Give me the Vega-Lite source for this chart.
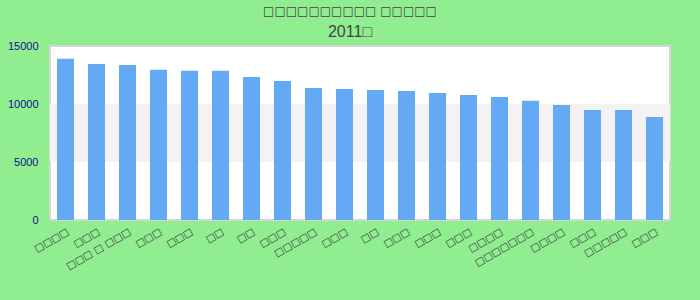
{
  "$schema": "https://vega.github.io/schema/vega-lite/v6.json",
  "width": 620,
  "height": 174,
  "autosize": {"type": "none"},
  "padding": {"left": 50, "top": 46, "right": 30, "bottom": 80},
  "background": "#90EE90",
  "title": {
    "text": "□□□□□□□□□□ □□□□□",
    "subtitle": "2011□",
    "anchor": "middle",
    "dx": -10,
    "fontSize": 12,
    "fontWeight": "normal",
    "font": "DejaVu Sans",
    "color": "#444444",
    "subtitleFont": "Liberation Sans",
    "subtitleFontSize": 16,
    "subtitleColor": "#444444",
    "subtitlePadding": 6,
    "offset": -1
  },
  "config": {
    "view": {"stroke": "#d6d6d6", "strokeWidth": 2, "fill": "white"},
    "font": "Liberation Sans"
  },
  "layer": [
    {
      "data": {"values": [{"lo": 5000, "hi": 10000}]},
      "mark": {"type": "rect", "color": "#f3f3f3"},
      "encoding": {
        "y": {"field": "lo", "type": "quantitative", "scale": {"domain": [0, 15000]}},
        "y2": {"field": "hi"}
      }
    },
    {
      "data": {"values": [
        {"name": "□□□□", "value": 13900},
        {"name": "□□□", "value": 13450},
        {"name": "□□□ □ □□□", "value": 13370},
        {"name": " □□□", "value": 12950},
        {"name": "  □□□", "value": 12860},
        {"name": "□□", "value": 12860},
        {"name": " □□", "value": 12330},
        {"name": "   □□□", "value": 11990},
        {"name": "□□□□□", "value": 11390},
        {"name": "    □□□", "value": 11300},
        {"name": "  □□", "value": 11210},
        {"name": "     □□□", "value": 11130},
        {"name": "      □□□", "value": 10950},
        {"name": "       □□□", "value": 10780},
        {"name": " □□□□", "value": 10610},
        {"name": "□□□□□□□", "value": 10270},
        {"name": "  □□□□", "value": 9920},
        {"name": "        □□□", "value": 9490},
        {"name": " □□□□□", "value": 9490},
        {"name": "         □□□", "value": 8880}
      ]},
      "mark": {"type": "bar", "color": "#63a9f3"},
      "encoding": {
        "x": {
          "field": "name",
          "type": "nominal",
          "sort": null,
          "scale": {"paddingInner": 0.45, "paddingOuter": 0.225},
          "axis": {
            "title": null,
            "domain": false,
            "ticks": false,
            "labelAngle": -30,
            "labelOverlap": false,
            "labelFont": "DejaVu Sans",
            "labelFontSize": 10,
            "labelColor": "#333333",
            "labelPadding": 6
          }
        },
        "y": {
          "field": "value",
          "type": "quantitative",
          "scale": {"domain": [0, 15000]},
          "axis": {
            "title": null,
            "domain": false,
            "ticks": false,
            "grid": false,
            "format": "d",
            "values": [0, 5000, 10000, 15000],
            "labelColor": "#10108a",
            "labelFontSize": 11,
            "labelPadding": 12
          }
        }
      }
    }
  ]
}
